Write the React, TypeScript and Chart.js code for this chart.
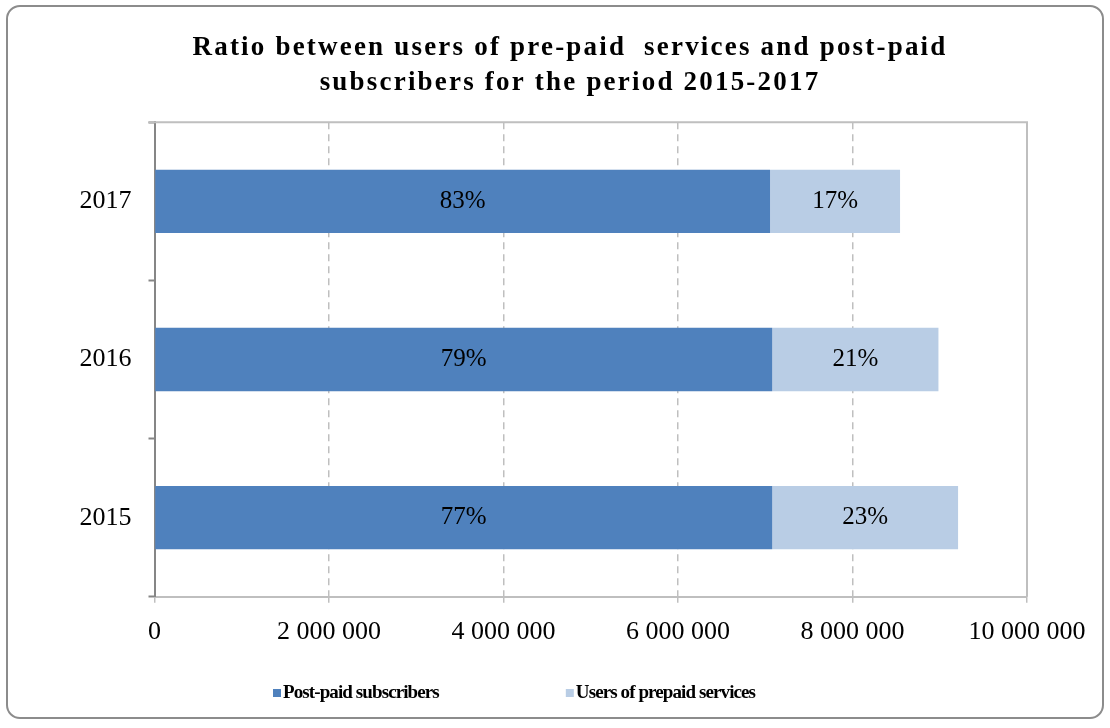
import React, { useEffect, useRef } from "react";
import { Chart, registerables } from "chart.js";

Chart.register(...registerables);

const years = ["2015", "2016", "2017"];
const postPaid = [7080000, 7080000, 7055000];
const prePaid = [2130000, 1905000, 1490000];
const postPctLabels = ["77%", "79%", "83%"];
const prePctLabels = ["23%", "21%", "17%"];
const seriesNames = ["Post-paid subscribers", "Users of prepaid services"];
const seriesColors = ["#4F81BD", "#B9CDE5"];
const titleLines = [
  "Ratio between users of pre-paid  services and post-paid",
  "subscribers for the period 2015-2017",
];
const xMin = 0;
const xMax = 10000000;
const xStep = 2000000;

const SERIF = "'Liberation Serif', 'Times New Roman', serif";

const fmt = (v: number) =>
  String(Math.round(v)).replace(/\B(?=(\d{3})+(?!\d))/g, " ");

const dataLabelPlugin = {
  id: "dataLabels",
  afterDatasetsDraw(chart: any) {
    const ctx = chart.ctx;
    const labelSets = [postPctLabels, prePctLabels];
    ctx.save();
    ctx.font = `25px ${SERIF}`;
    ctx.fillStyle = "#000";
    ctx.textAlign = "center";
    ctx.textBaseline = "middle";
    chart.data.datasets.forEach((ds: any, di: number) => {
      const meta = chart.getDatasetMeta(di);
      meta.data.forEach((bar: any, i: number) => {
        const cx = (bar.x + bar.base) / 2;
        ctx.fillText(labelSets[di][i], cx, bar.y);
      });
    });
    ctx.restore();
  },
};

const plotBorderPlugin = {
  id: "plotBorder",
  afterDraw(chart: any) {
    const { ctx, chartArea } = chart;
    ctx.save();
    ctx.strokeStyle = "#BFBFBF";
    ctx.lineWidth = 2;
    ctx.beginPath();
    ctx.moveTo(chartArea.left - 6, chartArea.top);
    ctx.lineTo(chartArea.right, chartArea.top);
    ctx.lineTo(chartArea.right, chartArea.bottom);
    ctx.stroke();
    ctx.restore();
  },
};

const titlePlugin = {
  id: "spacedTitle",
  afterDraw(chart: any) {
    const ctx = chart.ctx;
    const o = chart.options.plugins.spacedTitle;
    const tb = chart.titleBlock;
    const cx = (tb.left + tb.right) / 2;
    ctx.save();
    ctx.font = `bold ${o.fontSize}px ${SERIF}`;
    (ctx as any).letterSpacing = o.letterSpacing;
    ctx.fillStyle = "#000";
    ctx.textAlign = "center";
    ctx.textBaseline = "alphabetic";
    titleLines.forEach((line, i) => {
      ctx.fillText(line, cx, tb.top + o.firstBaseline + i * o.lineGap);
    });
    ctx.restore();
  },
};

const legendPlugin = {
  id: "customLegend",
  afterDraw(chart: any) {
    const ctx = chart.ctx;
    const o = chart.options.plugins.customLegend;
    ctx.save();
    ctx.font = `bold ${o.fontSize}px ${SERIF}`;
    (ctx as any).letterSpacing = o.letterSpacing;
    ctx.textBaseline = "middle";
    ctx.textAlign = "left";
    let x = o.startX;
    chart.data.datasets.forEach((ds: any) => {
      ctx.fillStyle = ds.backgroundColor;
      ctx.fillRect(x, o.y - o.box / 2, o.box, o.box);
      ctx.fillStyle = "#000";
      const tx = x + o.box + o.boxGap;
      ctx.fillText(ds.label, tx, o.y);
      x = tx + ctx.measureText(ds.label).width + o.itemGap;
    });
    ctx.restore();
  },
};

export default function App() {
  const ref = useRef<HTMLCanvasElement | null>(null);

  useEffect(() => {
    if (!ref.current) return;
    const chart = new Chart(ref.current, {
      type: "bar",
      data: {
        labels: years,
        datasets: [
          {
            label: seriesNames[0],
            data: postPaid,
            backgroundColor: seriesColors[0],
            barPercentage: 0.4,
            categoryPercentage: 1,
          },
          {
            label: seriesNames[1],
            data: prePaid,
            backgroundColor: seriesColors[1],
            barPercentage: 0.4,
            categoryPercentage: 1,
          },
        ],
      },
      options: {
        indexAxis: "y",
        responsive: false,
        animation: false,
        layout: { padding: { left: 113, right: 83, top: 0, bottom: 66 } },
        plugins: {
          legend: { display: false },
          tooltip: { enabled: false },
          title: {
            display: true,
            text: titleLines,
            color: "rgba(0,0,0,0)",
            font: { family: SERIF, size: 26, weight: "bold", lineHeight: 1.35 },
            padding: { top: 29, bottom: 23 },
          },
          spacedTitle: {
            fontSize: 27,
            letterSpacing: "2.2px",
            firstBaseline: 55,
            lineGap: 35,
          },
          customLegend: {
            startX: 273,
            y: 693,
            box: 8,
            boxGap: 2,
            itemGap: 127,
            fontSize: 19,
            letterSpacing: "-0.9px",
          },
        } as any,
        scales: {
          x: {
            stacked: true,
            min: xMin,
            max: xMax,
            ticks: {
              stepSize: xStep,
              callback: (v: any) => fmt(Number(v)),
              color: "#000",
              font: { family: SERIF, size: 26 },
              padding: 14,
              maxRotation: 0,
            },
            grid: {
              color: "#BFBFBF",
              lineWidth: 1.5,
              tickLength: 6,
              tickColor: "#BFBFBF",
              tickWidth: 1.5,
              tickBorderDash: [],
            },
            border: { color: "#BFBFBF", width: 2, dash: [7, 5] },
          },
          y: {
            stacked: true,
            reverse: true,
            afterFit: (scale: any) => {
              scale.width = 41.5;
            },
            ticks: {
              color: "#000",
              font: { family: SERIF, size: 26 },
              mirror: true,
              padding: -75,
            },
            grid: {
              drawOnChartArea: false,
              tickLength: 6,
              tickColor: "#868686",
              tickWidth: 2,
            },
            border: { color: "#868686", width: 2 },
          },
        },
      },
      plugins: [dataLabelPlugin, plotBorderPlugin, titlePlugin, legendPlugin],
    });
    return () => chart.destroy();
  }, []);

  return (
    <div style={{ position: "absolute", left: 0, top: 0, width: 1110, height: 728, background: "#fff" }}>
      <canvas ref={ref} width={1110} height={728} style={{ display: "block" }} />
      <div
        style={{
          position: "absolute",
          left: 6,
          top: 5,
          width: 1098,
          height: 714,
          boxSizing: "border-box",
          border: "2px solid #8C8C8C",
          borderRadius: 14,
          pointerEvents: "none",
        }}
      />
    </div>
  );
}
